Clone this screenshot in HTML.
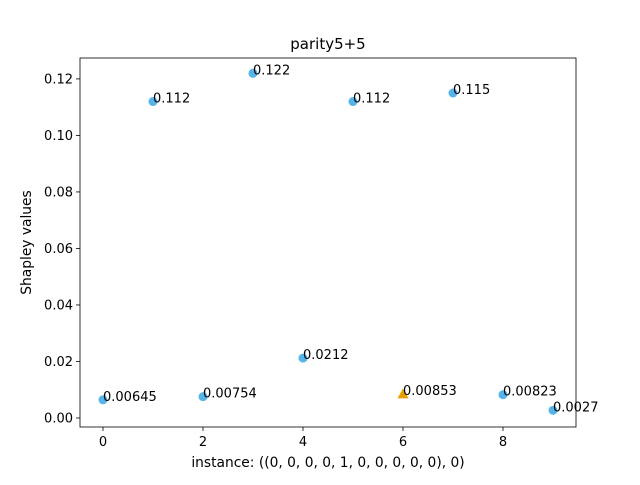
<!DOCTYPE html>
<html><head><meta charset="utf-8"><style>
body{margin:0;background:#fff;font-family:"Liberation Sans","DejaVu Sans",sans-serif;}
</style></head><body>
<svg id="chart" width="640" height="480" xmlns="http://www.w3.org/2000/svg" style="font-family:'DejaVu Sans','Liberation Sans',sans-serif">
<rect width="640" height="480" fill="#fff"/>
<g id="plot"></g>
</svg>
<script>
const categories=[0,1,2,3,4,5,6,7,8,9];
const values=[0.00645,0.112,0.00754,0.122,0.0212,0.112,0.00853,0.115,0.00823,0.0027];
const labels=["0.00645","0.112","0.00754","0.122","0.0212","0.112","0.00853","0.115","0.00823","0.0027"];
const highlight=[false,false,false,false,false,false,true,false,false,false];
const xTicks=[0,2,4,6,8];
const yTicks=["0.00","0.02","0.04","0.06","0.08","0.10","0.12"];
const L=80,R=576,T=58,B=427;
const xmin=-0.46,xmax=9.46,ymin=-0.00319,ymax=0.1274;
const X=v=>L+(v-xmin)/(xmax-xmin)*(R-L);
const Y=v=>B-(v-ymin)/(ymax-ymin)*(B-T);
const NS="http://www.w3.org/2000/svg";
const g=document.getElementById('plot');
function mk(t,a,txt){const e=document.createElementNS(NS,t);for(const k in a)e.setAttribute(k,a[k]);if(txt!==undefined)e.textContent=txt;g.appendChild(e);return e;}
xTicks.forEach(v=>{const x=X(v);
const l=mk('line',{x1:x,x2:x,y1:B,y2:B+4,stroke:'#000','stroke-width':0.8});


const t=mk('text',{x:x,y:B+19,'text-anchor':'middle','font-size':13},String(v));

});
yTicks.forEach(s=>{const y=Y(parseFloat(s));
const l=mk('line',{x1:L-4,x2:L,y1:y,y2:y,stroke:'#000','stroke-width':0.8});


const t=mk('text',{x:L-7,y:y+4.5,'text-anchor':'end','font-size':13},s);

});
categories.forEach((c,i)=>{const x=X(c),y=Y(values[i]);let m;
if(highlight[i]){m=mk('polygon',{points:`${x},${y-5.5} ${x-5.5},${y+4.5} ${x+5.5},${y+4.5}`,fill:'#e69f00'});}
else{m=mk('circle',{cx:x,cy:y,r:4.5,fill:'#56b4e9'});}


const t=mk('text',{x:x,y:y+1,'font-size':13},labels[i]);

});
const f=mk('rect',{x:L,y:T,width:R-L,height:B-T,fill:'none',stroke:'#000','stroke-width':0.8});


const ti=mk('text',{x:(L+R)/2,y:T-9,'text-anchor':'middle','font-size':15},'parity5+5');


const xt=mk('text',{x:(L+R)/2,y:467,'text-anchor':'middle','font-size':13.8},'instance: ((0, 0, 0, 0, 1, 0, 0, 0, 0, 0), 0)');


const yt=mk('text',{x:31,y:(T+B)/2,'text-anchor':'middle','font-size':13.8,transform:`rotate(-90 31 ${(T+B)/2})`},'Shapley values');


</script>
</body></html>
